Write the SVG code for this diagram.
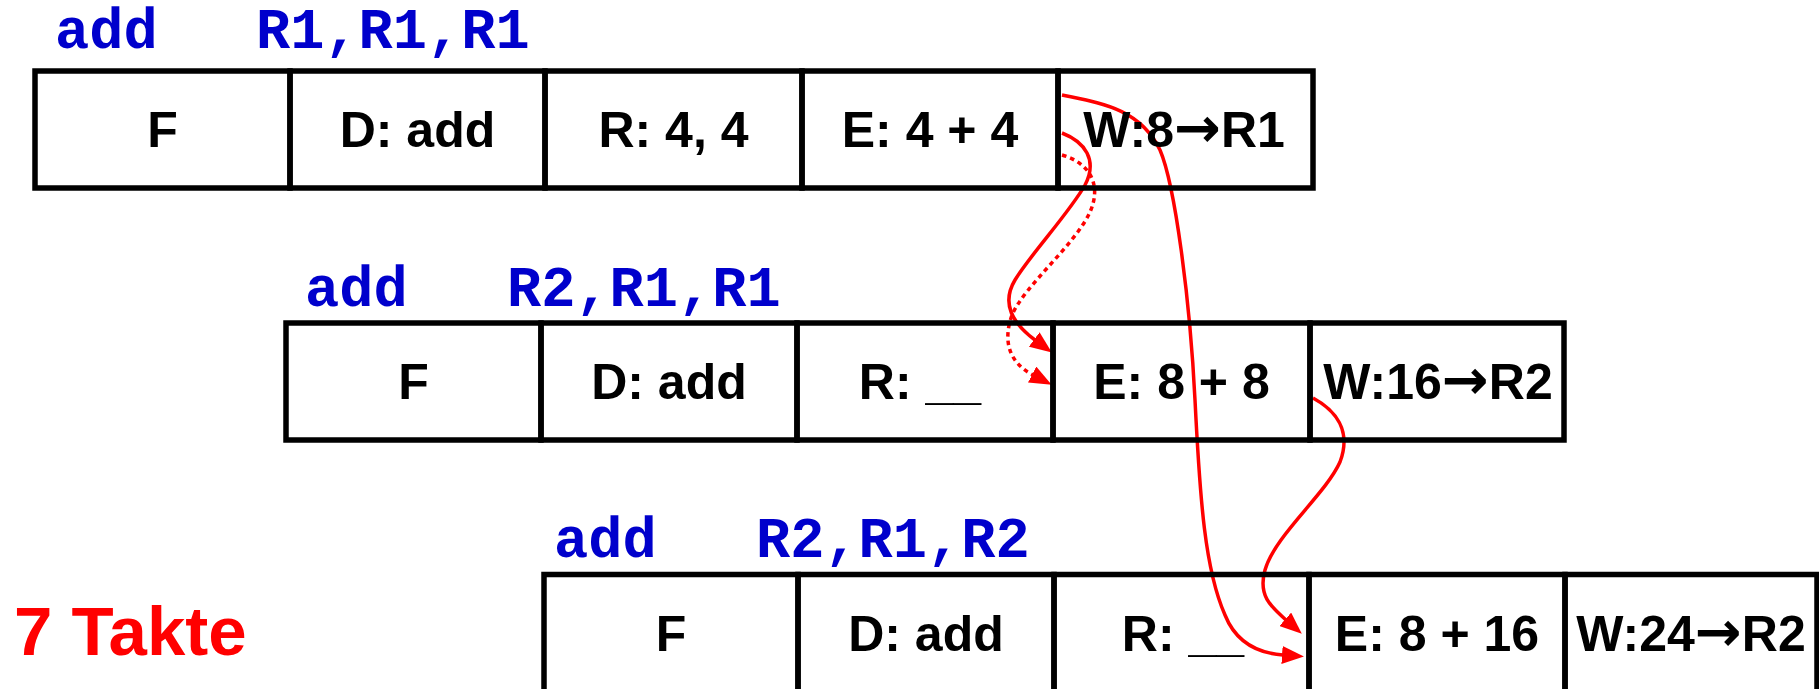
<svg xmlns="http://www.w3.org/2000/svg" width="1819" height="689" viewBox="0 0 1819 689">
<style>
.cell{fill:none;stroke:#000;stroke-width:5.5}
.lbl{font-family:"Liberation Sans",Arial,sans-serif;font-weight:bold;font-size:50px;fill:#000;text-anchor:middle}
.arr{font-family:"DejaVu Sans",sans-serif;font-weight:bold;font-size:56px}
.ins{font-family:"Liberation Mono","Courier New",monospace;font-weight:bold;font-size:57px;fill:#0000cc}
.wire{fill:none;stroke:#ff0000;stroke-width:3.5}
.dot{stroke-dasharray:4.5 4}
.takte{font-family:"Liberation Sans",Arial,sans-serif;font-weight:bold;font-size:69px;fill:#ff0000}
</style>
<defs>
<marker id="ah" markerUnits="userSpaceOnUse" markerWidth="22" markerHeight="18" viewBox="0 0 22 18" refX="1" refY="9" orient="auto">
<path d="M0,0 L22,9 L0,18 z" fill="#ff0000"/>
</marker>
</defs>
<rect x="0" y="0" width="1819" height="689" fill="#fff"/>

<g id="connectors">
<path class="wire" marker-end="url(#ah)" d="M1062,95 C1100,103 1140,108 1160,150 C1175,185 1190,300 1195,400 C1200,500 1205,570 1225,615 C1235,640 1255,653 1283,655"/>
<path class="wire" marker-end="url(#ah)" d="M1062,133 C1085,142 1098,160 1085,185 C1070,212 1030,255 1015,280 C1003,300 1008,320 1035,340"/>
<path class="wire dot" marker-end="url(#ah)" d="M1062,155 C1090,163 1102,185 1090,212 C1075,245 1025,285 1012,315 C1003,340 1008,362 1033,375"/>
<path class="wire" marker-end="url(#ah)" d="M1313,398 C1335,410 1352,430 1340,462 C1325,495 1275,535 1265,570 C1258,595 1270,606 1286,620"/>
</g>

<g id="instr1">
<text class="ins" x="55" y="48">add</text>
<text class="ins" x="256" y="48">R1,R1,R1</text>
</g>
<g id="instr2">
<text class="ins" x="305" y="306">add</text>
<text class="ins" x="507" y="306">R2,R1,R1</text>
</g>
<g id="instr3">
<text class="ins" x="554" y="557">add</text>
<text class="ins" x="756" y="557">R2,R1,R2</text>
</g>

<g id="r1-F"><rect class="cell" x="35" y="71" width="255" height="117"/><text class="lbl" x="162.5" y="147">F</text></g>
<g id="r1-D"><rect class="cell" x="290" y="71" width="255" height="117"/><text class="lbl" x="417.5" y="147">D: add</text></g>
<g id="r1-R"><rect class="cell" x="545" y="71" width="257" height="117"/><text class="lbl" x="673.5" y="147">R: 4, 4</text></g>
<g id="r1-E"><rect class="cell" x="802" y="71" width="256" height="117"/><text class="lbl" x="930" y="147">E: 4 + 4</text></g>
<g id="r1-W"><rect class="cell" x="1058" y="71" width="255" height="117"/><text class="lbl" x="1184" y="147">W:8<tspan class="arr">→</tspan>R1</text></g>

<g id="r2-F"><rect class="cell" x="286" y="323" width="255" height="117"/><text class="lbl" x="413.5" y="399">F</text></g>
<g id="r2-D"><rect class="cell" x="541" y="323" width="256" height="117"/><text class="lbl" x="669" y="399">D: add</text></g>
<g id="r2-R"><rect class="cell" x="797" y="323" width="256" height="117"/><text class="lbl" x="920" y="399">R: __</text></g>
<g id="r2-E"><rect class="cell" x="1053" y="323" width="257" height="117"/><text class="lbl" x="1181.5" y="399">E: 8 + 8</text></g>
<g id="r2-W"><rect class="cell" x="1310" y="323" width="254" height="117"/><text class="lbl" x="1438" y="399">W:16<tspan class="arr">→</tspan>R2</text></g>

<g id="r3-F"><rect class="cell" x="544" y="574.5" width="254" height="118"/><text class="lbl" x="671" y="650.5">F</text></g>
<g id="r3-D"><rect class="cell" x="798" y="574.5" width="256" height="118"/><text class="lbl" x="926" y="650.5">D: add</text></g>
<g id="r3-R"><rect class="cell" x="1054" y="574.5" width="255" height="118"/><text class="lbl" x="1183" y="650.5">R: __</text></g>
<g id="r3-E"><rect class="cell" x="1309" y="574.5" width="256" height="118"/><text class="lbl" x="1437" y="650.5">E: 8 + 16</text></g>
<g id="r3-W"><rect class="cell" x="1565" y="574.5" width="252" height="118"/><text class="lbl" x="1691" y="650.5">W:24<tspan class="arr">→</tspan>R2</text></g>

<g id="takte"><text class="takte" x="14" y="655">7 Takte</text></g>
</svg>
